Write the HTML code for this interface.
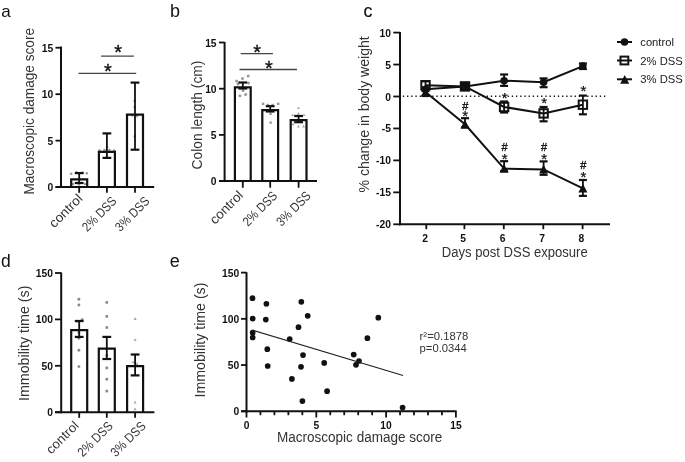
<!DOCTYPE html>
<html><head><meta charset="utf-8"><style>
html,body{margin:0;padding:0;background:#fff;}
svg{display:block;font-family:"Liberation Sans", sans-serif;filter:grayscale(1);}
</style></head><body>
<svg width="685" height="462" viewBox="0 0 685 462">
<rect width="685" height="462" fill="#fff"/>
<text x="1.20" y="16.60" font-size="17" text-anchor="start" font-weight="normal" fill="#111" >a</text>
<text x="170.00" y="16.70" font-size="18" text-anchor="start" font-weight="normal" fill="#111" >b</text>
<text x="363.40" y="16.60" font-size="17.7" text-anchor="start" font-weight="normal" fill="#111" stroke="#111" stroke-width="0.2">c</text>
<text x="0.90" y="267.20" font-size="17.5" text-anchor="start" font-weight="normal" fill="#111" >d</text>
<text x="169.80" y="267.30" font-size="18" text-anchor="start" font-weight="normal" fill="#111" >e</text>
<line x1="61.00" y1="46.40" x2="61.00" y2="188.10" stroke="#111" stroke-width="2" />
<line x1="55.50" y1="187.10" x2="154.20" y2="187.10" stroke="#111" stroke-width="2" />
<line x1="55.50" y1="187.10" x2="61.00" y2="187.10" stroke="#111" stroke-width="1.8" />
<line x1="55.50" y1="140.65" x2="61.00" y2="140.65" stroke="#111" stroke-width="1.8" />
<line x1="55.50" y1="94.20" x2="61.00" y2="94.20" stroke="#111" stroke-width="1.8" />
<line x1="55.50" y1="47.75" x2="61.00" y2="47.75" stroke="#111" stroke-width="1.8" />
<text x="53.20" y="51.76" font-size="10.3" text-anchor="end" font-weight="bold" fill="#111" >15</text>
<text x="53.20" y="98.21" font-size="10.3" text-anchor="end" font-weight="bold" fill="#111" >10</text>
<text x="53.20" y="144.66" font-size="10.3" text-anchor="end" font-weight="bold" fill="#111" >5</text>
<text x="53.20" y="191.11" font-size="10.3" text-anchor="end" font-weight="bold" fill="#111" >0</text>
<line x1="79.20" y1="187.10" x2="79.20" y2="192.80" stroke="#111" stroke-width="1.8" />
<line x1="106.90" y1="187.10" x2="106.90" y2="192.80" stroke="#111" stroke-width="1.8" />
<line x1="135.00" y1="187.10" x2="135.00" y2="192.80" stroke="#111" stroke-width="1.8" />
<circle cx="71.20" cy="173.80" r="1.3" fill="#999"/>
<circle cx="76.40" cy="172.20" r="1.3" fill="#999"/>
<circle cx="82.50" cy="172.50" r="1.3" fill="#999"/>
<circle cx="86.80" cy="173.30" r="1.3" fill="#999"/>
<circle cx="73.00" cy="184.00" r="1.3" fill="#999"/>
<circle cx="79.00" cy="184.50" r="1.3" fill="#999"/>
<circle cx="85.00" cy="184.00" r="1.3" fill="#999"/>
<circle cx="99.50" cy="150.50" r="1.3" fill="#999"/>
<circle cx="114.20" cy="150.50" r="1.3" fill="#999"/>
<circle cx="104.50" cy="150.00" r="1.3" fill="#999"/>
<circle cx="109.50" cy="150.00" r="1.3" fill="#999"/>
<circle cx="107.00" cy="147.00" r="1.3" fill="#999"/>
<circle cx="106.80" cy="157.00" r="1.3" fill="#999"/>
<circle cx="134.50" cy="101.00" r="1.3" fill="#aaa"/>
<circle cx="134.50" cy="107.00" r="1.3" fill="#aaa"/>
<circle cx="132.20" cy="115.50" r="1.3" fill="#aaa"/>
<circle cx="136.80" cy="116.20" r="1.3" fill="#aaa"/>
<circle cx="134.80" cy="136.30" r="1.3" fill="#aaa"/>
<path d="M71.20,187.10 V179.40 H87.20 V187.10" fill="none" stroke="#111" stroke-width="2.2" stroke-linejoin="miter"/>
<path d="M98.90,187.10 V151.90 H114.90 V187.10" fill="none" stroke="#111" stroke-width="2.2" stroke-linejoin="miter"/>
<path d="M127.00,187.10 V114.60 H143.00 V187.10" fill="none" stroke="#111" stroke-width="2.2" stroke-linejoin="miter"/>
<line x1="79.20" y1="173.10" x2="79.20" y2="183.00" stroke="#111" stroke-width="1.8" />
<line x1="74.80" y1="173.10" x2="83.60" y2="173.10" stroke="#111" stroke-width="2.2" />
<line x1="74.80" y1="183.00" x2="83.60" y2="183.00" stroke="#111" stroke-width="2.2" />
<line x1="106.90" y1="133.40" x2="106.90" y2="157.90" stroke="#111" stroke-width="1.8" />
<line x1="102.50" y1="133.40" x2="111.30" y2="133.40" stroke="#111" stroke-width="2.2" />
<line x1="102.50" y1="157.90" x2="111.30" y2="157.90" stroke="#111" stroke-width="2.2" />
<line x1="135.00" y1="82.60" x2="135.00" y2="149.70" stroke="#111" stroke-width="1.8" />
<line x1="130.60" y1="82.60" x2="139.40" y2="82.60" stroke="#111" stroke-width="2.2" />
<line x1="130.60" y1="149.70" x2="139.40" y2="149.70" stroke="#111" stroke-width="2.2" />
<line x1="101.10" y1="56.20" x2="133.90" y2="56.20" stroke="#444" stroke-width="1.3" />
<line x1="78.50" y1="73.40" x2="136.20" y2="73.40" stroke="#444" stroke-width="1.3" />
<text x="118.20" y="59.10" font-size="20" text-anchor="middle" fill="#111" stroke="#111" stroke-width="0.35">*</text>
<text x="108.00" y="77.90" font-size="20" text-anchor="middle" fill="#111" stroke="#111" stroke-width="0.35">*</text>
<text transform="translate(33.70,194.60) rotate(-90)" x="0" y="0" font-size="15" fill="#333" textLength="166.60" lengthAdjust="spacingAndGlyphs">Macroscopic damage score</text>
<text transform="translate(83.30,199.40) rotate(-45)" x="0" y="0" font-size="13" fill="#333" text-anchor="end" textLength="41.00" lengthAdjust="spacingAndGlyphs">control</text>
<text transform="translate(117.40,202.00) rotate(-45)" x="0" y="0" font-size="13" fill="#333" text-anchor="end" textLength="42.70" lengthAdjust="spacingAndGlyphs">2% DSS</text>
<text transform="translate(150.40,202.00) rotate(-45)" x="0" y="0" font-size="13" fill="#333" text-anchor="end" textLength="42.70" lengthAdjust="spacingAndGlyphs">3% DSS</text>
<line x1="224.60" y1="42.00" x2="224.60" y2="182.10" stroke="#111" stroke-width="2" />
<line x1="219.00" y1="181.10" x2="317.00" y2="181.10" stroke="#111" stroke-width="2" />
<line x1="219.00" y1="181.10" x2="224.60" y2="181.10" stroke="#111" stroke-width="1.8" />
<line x1="219.00" y1="134.90" x2="224.60" y2="134.90" stroke="#111" stroke-width="1.8" />
<line x1="219.00" y1="88.70" x2="224.60" y2="88.70" stroke="#111" stroke-width="1.8" />
<line x1="219.00" y1="42.50" x2="224.60" y2="42.50" stroke="#111" stroke-width="1.8" />
<text x="216.60" y="46.51" font-size="10.3" text-anchor="end" font-weight="bold" fill="#111" >15</text>
<text x="216.60" y="92.71" font-size="10.3" text-anchor="end" font-weight="bold" fill="#111" >10</text>
<text x="216.60" y="138.91" font-size="10.3" text-anchor="end" font-weight="bold" fill="#111" >5</text>
<text x="216.60" y="185.11" font-size="10.3" text-anchor="end" font-weight="bold" fill="#111" >0</text>
<line x1="242.80" y1="181.10" x2="242.80" y2="187.70" stroke="#111" stroke-width="1.8" />
<line x1="270.20" y1="181.10" x2="270.20" y2="187.70" stroke="#111" stroke-width="1.8" />
<line x1="298.60" y1="181.10" x2="298.60" y2="187.70" stroke="#111" stroke-width="1.8" />
<circle cx="236.60" cy="81.00" r="1.5" fill="#999"/>
<circle cx="242.50" cy="78.50" r="1.5" fill="#999"/>
<circle cx="248.20" cy="75.90" r="1.5" fill="#999"/>
<circle cx="248.50" cy="83.00" r="1.5" fill="#999"/>
<circle cx="243.00" cy="90.60" r="1.5" fill="#999"/>
<circle cx="245.60" cy="94.40" r="1.5" fill="#999"/>
<circle cx="239.90" cy="95.80" r="1.5" fill="#999"/>
<circle cx="238.00" cy="84.00" r="1.5" fill="#999"/>
<rect x="261.90" y="102.60" width="2.4" height="2.4" fill="#999"/>
<rect x="277.00" y="102.60" width="2.4" height="2.4" fill="#999"/>
<rect x="266.80" y="103.80" width="2.4" height="2.4" fill="#999"/>
<rect x="271.30" y="103.80" width="2.4" height="2.4" fill="#999"/>
<rect x="269.40" y="112.60" width="2.4" height="2.4" fill="#999"/>
<rect x="269.40" y="121.40" width="2.4" height="2.4" fill="#999"/>
<path d="M298.40,106.39 L299.90,109.01 L296.90,109.01 Z" fill="#aaa"/>
<path d="M292.70,113.39 L294.20,116.01 L291.20,116.01 Z" fill="#aaa"/>
<path d="M304.00,113.39 L305.50,116.01 L302.50,116.01 Z" fill="#aaa"/>
<path d="M298.40,112.09 L299.90,114.71 L296.90,114.71 Z" fill="#aaa"/>
<path d="M298.40,124.79 L299.90,127.41 L296.90,127.41 Z" fill="#aaa"/>
<path d="M293.10,122.59 L294.60,125.21 L291.60,125.21 Z" fill="#aaa"/>
<path d="M303.60,124.79 L305.10,127.41 L302.10,127.41 Z" fill="#aaa"/>
<path d="M234.90,181.10 V87.40 H250.70 V181.10" fill="none" stroke="#111" stroke-width="2.2" stroke-linejoin="miter"/>
<path d="M262.30,181.10 V110.10 H278.10 V181.10" fill="none" stroke="#111" stroke-width="2.2" stroke-linejoin="miter"/>
<path d="M290.70,181.10 V120.10 H306.50 V181.10" fill="none" stroke="#111" stroke-width="2.2" stroke-linejoin="miter"/>
<line x1="242.80" y1="82.50" x2="242.80" y2="88.50" stroke="#111" stroke-width="1.8" />
<line x1="238.40" y1="82.50" x2="247.20" y2="82.50" stroke="#111" stroke-width="2.2" />
<line x1="238.40" y1="88.50" x2="247.20" y2="88.50" stroke="#111" stroke-width="2.2" />
<line x1="270.20" y1="106.20" x2="270.20" y2="111.50" stroke="#111" stroke-width="1.8" />
<line x1="265.80" y1="106.20" x2="274.60" y2="106.20" stroke="#111" stroke-width="2.2" />
<line x1="265.80" y1="111.50" x2="274.60" y2="111.50" stroke="#111" stroke-width="2.2" />
<line x1="298.60" y1="116.00" x2="298.60" y2="122.20" stroke="#111" stroke-width="1.8" />
<line x1="294.20" y1="116.00" x2="303.00" y2="116.00" stroke="#111" stroke-width="2.2" />
<line x1="294.20" y1="122.20" x2="303.00" y2="122.20" stroke="#111" stroke-width="2.2" />
<line x1="240.70" y1="53.70" x2="272.90" y2="53.70" stroke="#444" stroke-width="1.3" />
<line x1="239.50" y1="69.50" x2="297.00" y2="69.50" stroke="#444" stroke-width="1.3" />
<text x="257.20" y="59.10" font-size="20" text-anchor="middle" fill="#111" stroke="#111" stroke-width="0.35">*</text>
<text x="269.00" y="74.80" font-size="20" text-anchor="middle" fill="#111" stroke="#111" stroke-width="0.35">*</text>
<text transform="translate(202.20,169.40) rotate(-90)" x="0" y="0" font-size="15" fill="#333" textLength="108.80" lengthAdjust="spacingAndGlyphs">Colon length (cm)</text>
<text transform="translate(244.00,196.00) rotate(-45)" x="0" y="0" font-size="13" fill="#333" text-anchor="end" textLength="41.00" lengthAdjust="spacingAndGlyphs">control</text>
<text transform="translate(278.10,196.70) rotate(-45)" x="0" y="0" font-size="13" fill="#333" text-anchor="end" textLength="42.70" lengthAdjust="spacingAndGlyphs">2% DSS</text>
<text transform="translate(311.60,196.70) rotate(-45)" x="0" y="0" font-size="13" fill="#333" text-anchor="end" textLength="42.70" lengthAdjust="spacingAndGlyphs">3% DSS</text>
<line x1="400.00" y1="32.00" x2="400.00" y2="225.30" stroke="#111" stroke-width="2" />
<line x1="399.00" y1="224.30" x2="610.00" y2="224.30" stroke="#111" stroke-width="2" />
<line x1="393.30" y1="32.60" x2="400.00" y2="32.60" stroke="#111" stroke-width="1.8" />
<line x1="393.30" y1="64.55" x2="400.00" y2="64.55" stroke="#111" stroke-width="1.8" />
<line x1="393.30" y1="96.50" x2="400.00" y2="96.50" stroke="#111" stroke-width="1.8" />
<line x1="393.30" y1="128.45" x2="400.00" y2="128.45" stroke="#111" stroke-width="1.8" />
<line x1="393.30" y1="160.40" x2="400.00" y2="160.40" stroke="#111" stroke-width="1.8" />
<line x1="393.30" y1="192.35" x2="400.00" y2="192.35" stroke="#111" stroke-width="1.8" />
<line x1="393.30" y1="224.30" x2="400.00" y2="224.30" stroke="#111" stroke-width="1.8" />
<text x="391.00" y="36.61" font-size="10.3" text-anchor="end" font-weight="bold" fill="#111" >10</text>
<text x="391.00" y="68.56" font-size="10.3" text-anchor="end" font-weight="bold" fill="#111" >5</text>
<text x="391.00" y="100.51" font-size="10.3" text-anchor="end" font-weight="bold" fill="#111" >0</text>
<text x="391.00" y="132.46" font-size="10.3" text-anchor="end" font-weight="bold" fill="#111" >-5</text>
<text x="391.00" y="164.41" font-size="10.3" text-anchor="end" font-weight="bold" fill="#111" >-10</text>
<text x="391.00" y="196.36" font-size="10.3" text-anchor="end" font-weight="bold" fill="#111" >-15</text>
<text x="391.00" y="228.31" font-size="10.3" text-anchor="end" font-weight="bold" fill="#111" >-20</text>
<line x1="426.30" y1="224.30" x2="426.30" y2="229.20" stroke="#111" stroke-width="1.8" />
<text x="425.00" y="242.30" font-size="10.3" text-anchor="middle" font-weight="bold" fill="#111" >2</text>
<line x1="464.40" y1="224.30" x2="464.40" y2="229.20" stroke="#111" stroke-width="1.8" />
<text x="463.10" y="242.30" font-size="10.3" text-anchor="middle" font-weight="bold" fill="#111" >5</text>
<line x1="503.80" y1="224.30" x2="503.80" y2="229.20" stroke="#111" stroke-width="1.8" />
<text x="502.50" y="242.30" font-size="10.3" text-anchor="middle" font-weight="bold" fill="#111" >6</text>
<line x1="543.30" y1="224.30" x2="543.30" y2="229.20" stroke="#111" stroke-width="1.8" />
<text x="542.00" y="242.30" font-size="10.3" text-anchor="middle" font-weight="bold" fill="#111" >7</text>
<line x1="582.60" y1="224.30" x2="582.60" y2="229.20" stroke="#111" stroke-width="1.8" />
<text x="581.30" y="242.30" font-size="10.3" text-anchor="middle" font-weight="bold" fill="#111" >8</text>
<text x="441.8" y="257.0" font-size="14" fill="#333" textLength="145.9" lengthAdjust="spacingAndGlyphs">Days post DSS exposure</text>
<text transform="translate(369.00,192.50) rotate(-90)" x="0" y="0" font-size="15" fill="#333" textLength="156.20" lengthAdjust="spacingAndGlyphs">% change in body weight</text>
<line x1="402.85" y1="96.3" x2="605.4" y2="96.3" stroke="#111" stroke-width="1.5" stroke-dasharray="1.3 2.89"/>
<polyline points="425.50,89.30 465.00,86.40 504.10,80.70 543.60,82.20 582.90,66.10" fill="none" stroke="#111" stroke-width="2"/>
<polyline points="425.50,85.20 465.00,86.40 504.10,107.00 543.60,113.40 582.90,104.70" fill="none" stroke="#111" stroke-width="2"/>
<polyline points="425.50,92.00 465.00,124.30 504.10,168.60 543.60,169.40 582.90,188.30" fill="none" stroke="#111" stroke-width="2"/>
<line x1="425.50" y1="87.50" x2="425.50" y2="91.00" stroke="#111" stroke-width="1.8" />
<line x1="421.50" y1="87.50" x2="429.50" y2="87.50" stroke="#111" stroke-width="2.2" />
<line x1="421.50" y1="91.00" x2="429.50" y2="91.00" stroke="#111" stroke-width="2.2" />
<line x1="465.00" y1="84.00" x2="465.00" y2="89.00" stroke="#111" stroke-width="1.8" />
<line x1="461.00" y1="84.00" x2="469.00" y2="84.00" stroke="#111" stroke-width="2.2" />
<line x1="461.00" y1="89.00" x2="469.00" y2="89.00" stroke="#111" stroke-width="2.2" />
<line x1="504.10" y1="74.50" x2="504.10" y2="85.90" stroke="#111" stroke-width="1.8" />
<line x1="500.10" y1="74.50" x2="508.10" y2="74.50" stroke="#111" stroke-width="2.2" />
<line x1="500.10" y1="85.90" x2="508.10" y2="85.90" stroke="#111" stroke-width="2.2" />
<line x1="543.60" y1="78.40" x2="543.60" y2="87.20" stroke="#111" stroke-width="1.8" />
<line x1="539.60" y1="78.40" x2="547.60" y2="78.40" stroke="#111" stroke-width="2.2" />
<line x1="539.60" y1="87.20" x2="547.60" y2="87.20" stroke="#111" stroke-width="2.2" />
<line x1="582.90" y1="63.50" x2="582.90" y2="69.00" stroke="#111" stroke-width="1.8" />
<line x1="578.90" y1="63.50" x2="586.90" y2="63.50" stroke="#111" stroke-width="2.2" />
<line x1="578.90" y1="69.00" x2="586.90" y2="69.00" stroke="#111" stroke-width="2.2" />
<line x1="425.50" y1="81.30" x2="425.50" y2="88.00" stroke="#111" stroke-width="1.8" />
<line x1="421.50" y1="81.30" x2="429.50" y2="81.30" stroke="#111" stroke-width="2.2" />
<line x1="421.50" y1="88.00" x2="429.50" y2="88.00" stroke="#111" stroke-width="2.2" />
<line x1="465.00" y1="83.00" x2="465.00" y2="90.00" stroke="#111" stroke-width="1.8" />
<line x1="461.00" y1="83.00" x2="469.00" y2="83.00" stroke="#111" stroke-width="2.2" />
<line x1="461.00" y1="90.00" x2="469.00" y2="90.00" stroke="#111" stroke-width="2.2" />
<line x1="504.10" y1="101.50" x2="504.10" y2="112.50" stroke="#111" stroke-width="1.8" />
<line x1="500.10" y1="101.50" x2="508.10" y2="101.50" stroke="#111" stroke-width="2.2" />
<line x1="500.10" y1="112.50" x2="508.10" y2="112.50" stroke="#111" stroke-width="2.2" />
<line x1="543.60" y1="107.00" x2="543.60" y2="121.30" stroke="#111" stroke-width="1.8" />
<line x1="539.60" y1="107.00" x2="547.60" y2="107.00" stroke="#111" stroke-width="2.2" />
<line x1="539.60" y1="121.30" x2="547.60" y2="121.30" stroke="#111" stroke-width="2.2" />
<line x1="582.90" y1="95.60" x2="582.90" y2="114.30" stroke="#111" stroke-width="1.8" />
<line x1="578.90" y1="95.60" x2="586.90" y2="95.60" stroke="#111" stroke-width="2.2" />
<line x1="578.90" y1="114.30" x2="586.90" y2="114.30" stroke="#111" stroke-width="2.2" />
<line x1="425.50" y1="90.00" x2="425.50" y2="96.00" stroke="#111" stroke-width="1.8" />
<line x1="421.50" y1="90.00" x2="429.50" y2="90.00" stroke="#111" stroke-width="2.2" />
<line x1="421.50" y1="96.00" x2="429.50" y2="96.00" stroke="#111" stroke-width="2.2" />
<line x1="465.00" y1="118.20" x2="465.00" y2="127.50" stroke="#111" stroke-width="1.8" />
<line x1="461.00" y1="118.20" x2="469.00" y2="118.20" stroke="#111" stroke-width="2.2" />
<line x1="461.00" y1="127.50" x2="469.00" y2="127.50" stroke="#111" stroke-width="2.2" />
<line x1="504.10" y1="161.20" x2="504.10" y2="171.00" stroke="#111" stroke-width="1.8" />
<line x1="500.10" y1="161.20" x2="508.10" y2="161.20" stroke="#111" stroke-width="2.2" />
<line x1="500.10" y1="171.00" x2="508.10" y2="171.00" stroke="#111" stroke-width="2.2" />
<line x1="543.60" y1="161.40" x2="543.60" y2="174.80" stroke="#111" stroke-width="1.8" />
<line x1="539.60" y1="161.40" x2="547.60" y2="161.40" stroke="#111" stroke-width="2.2" />
<line x1="539.60" y1="174.80" x2="547.60" y2="174.80" stroke="#111" stroke-width="2.2" />
<line x1="582.90" y1="180.00" x2="582.90" y2="195.90" stroke="#111" stroke-width="1.8" />
<line x1="578.90" y1="180.00" x2="586.90" y2="180.00" stroke="#111" stroke-width="2.2" />
<line x1="578.90" y1="195.90" x2="586.90" y2="195.90" stroke="#111" stroke-width="2.2" />
<circle cx="425.50" cy="89.30" r="3.75" fill="#111"/>
<circle cx="465.00" cy="86.40" r="3.75" fill="#111"/>
<circle cx="504.10" cy="80.70" r="3.75" fill="#111"/>
<circle cx="543.60" cy="82.20" r="3.75" fill="#111"/>
<circle cx="582.90" cy="66.10" r="3.75" fill="#111"/>
<rect x="421.30" y="81.00" width="8.4" height="8.4" fill="#fff" fill-opacity="0" stroke="#111" stroke-width="2"/>
<rect x="460.80" y="82.20" width="8.4" height="8.4" fill="#fff" fill-opacity="0" stroke="#111" stroke-width="2"/>
<rect x="499.90" y="102.80" width="8.4" height="8.4" fill="#fff" fill-opacity="0" stroke="#111" stroke-width="2"/>
<rect x="539.40" y="109.20" width="8.4" height="8.4" fill="#fff" fill-opacity="0" stroke="#111" stroke-width="2"/>
<rect x="578.70" y="100.50" width="8.4" height="8.4" fill="#fff" fill-opacity="0" stroke="#111" stroke-width="2"/>
<path d="M425.50,87.40 L430.00,96.20 L421.00,96.20 Z" fill="#111"/>
<path d="M465.00,119.70 L469.50,128.50 L460.50,128.50 Z" fill="#111"/>
<path d="M504.10,164.00 L508.60,172.80 L499.60,172.80 Z" fill="#111"/>
<path d="M543.60,164.80 L548.10,173.60 L539.10,173.60 Z" fill="#111"/>
<path d="M582.90,183.70 L587.40,192.50 L578.40,192.50 Z" fill="#111"/>
<text x="504.60" y="103.30" font-size="15" text-anchor="middle" fill="#111" stroke="#111" stroke-width="0.25">*</text>
<text x="544.10" y="107.90" font-size="15" text-anchor="middle" fill="#111" stroke="#111" stroke-width="0.25">*</text>
<text x="583.40" y="95.70" font-size="15" text-anchor="middle" fill="#111" stroke="#111" stroke-width="0.25">*</text>
<text x="465.20" y="109.59" font-size="11" text-anchor="middle" fill="#111" stroke="#111" stroke-width="0.35">#</text>
<text x="465.20" y="120.70" font-size="15" text-anchor="middle" fill="#111" stroke="#111" stroke-width="0.25">*</text>
<text x="504.60" y="150.89" font-size="11" text-anchor="middle" fill="#111" stroke="#111" stroke-width="0.35">#</text>
<text x="504.60" y="163.50" font-size="15" text-anchor="middle" fill="#111" stroke="#111" stroke-width="0.25">*</text>
<text x="544.10" y="151.49" font-size="11" text-anchor="middle" fill="#111" stroke="#111" stroke-width="0.35">#</text>
<text x="544.10" y="164.00" font-size="15" text-anchor="middle" fill="#111" stroke="#111" stroke-width="0.25">*</text>
<text x="583.40" y="169.19" font-size="11" text-anchor="middle" fill="#111" stroke="#111" stroke-width="0.35">#</text>
<text x="583.40" y="182.20" font-size="15" text-anchor="middle" fill="#111" stroke="#111" stroke-width="0.25">*</text>
<line x1="617.00" y1="42.00" x2="632.00" y2="42.00" stroke="#111" stroke-width="2" />
<circle cx="624.5" cy="42" r="3.75" fill="#111"/>
<line x1="617.00" y1="60.50" x2="632.00" y2="60.50" stroke="#111" stroke-width="2" />
<rect x="620.5" y="56.6" width="7.8" height="7.8" fill="none" stroke="#111" stroke-width="2"/>
<line x1="617.00" y1="79.30" x2="632.00" y2="79.30" stroke="#111" stroke-width="2" />
<path d="M624.70,75.00 L629.20,83.80 L620.20,83.80 Z" fill="#111"/>
<text x="640.30" y="45.60" font-size="11.6" text-anchor="start" font-weight="normal" fill="#1a1a1a" textLength="33.6" lengthAdjust="spacingAndGlyphs">control</text>
<text x="640.30" y="64.70" font-size="11.6" text-anchor="start" font-weight="normal" fill="#1a1a1a" textLength="42.5" lengthAdjust="spacingAndGlyphs">2% DSS</text>
<text x="640.30" y="83.30" font-size="11.6" text-anchor="start" font-weight="normal" fill="#1a1a1a" textLength="42.5" lengthAdjust="spacingAndGlyphs">3% DSS</text>
<line x1="61.20" y1="272.50" x2="61.20" y2="413.20" stroke="#111" stroke-width="2" />
<line x1="55.00" y1="412.20" x2="154.40" y2="412.20" stroke="#111" stroke-width="2" />
<line x1="55.00" y1="412.20" x2="61.20" y2="412.20" stroke="#111" stroke-width="1.8" />
<line x1="55.00" y1="365.80" x2="61.20" y2="365.80" stroke="#111" stroke-width="1.8" />
<line x1="55.00" y1="319.40" x2="61.20" y2="319.40" stroke="#111" stroke-width="1.8" />
<line x1="55.00" y1="273.00" x2="61.20" y2="273.00" stroke="#111" stroke-width="1.8" />
<text x="53.00" y="277.01" font-size="10.3" text-anchor="end" font-weight="bold" fill="#111" >150</text>
<text x="53.00" y="323.41" font-size="10.3" text-anchor="end" font-weight="bold" fill="#111" >100</text>
<text x="53.00" y="369.81" font-size="10.3" text-anchor="end" font-weight="bold" fill="#111" >50</text>
<text x="53.00" y="416.21" font-size="10.3" text-anchor="end" font-weight="bold" fill="#111" >0</text>
<line x1="79.20" y1="412.20" x2="79.20" y2="417.80" stroke="#111" stroke-width="1.8" />
<line x1="106.80" y1="412.20" x2="106.80" y2="417.80" stroke="#111" stroke-width="1.8" />
<line x1="135.10" y1="412.20" x2="135.10" y2="417.80" stroke="#111" stroke-width="1.8" />
<circle cx="78.90" cy="299.20" r="1.45" fill="#888"/>
<circle cx="78.90" cy="305.00" r="1.45" fill="#888"/>
<circle cx="76.90" cy="321.20" r="1.45" fill="#888"/>
<circle cx="82.20" cy="319.60" r="1.45" fill="#888"/>
<circle cx="78.90" cy="332.80" r="1.45" fill="#888"/>
<circle cx="78.90" cy="338.30" r="1.45" fill="#888"/>
<circle cx="78.90" cy="350.20" r="1.45" fill="#888"/>
<circle cx="78.90" cy="366.60" r="1.45" fill="#888"/>
<rect x="105.50" y="301.10" width="2.6" height="2.6" fill="#888"/>
<rect x="105.50" y="315.10" width="2.6" height="2.6" fill="#888"/>
<rect x="105.50" y="326.20" width="2.6" height="2.6" fill="#888"/>
<rect x="105.50" y="354.20" width="2.6" height="2.6" fill="#888"/>
<rect x="105.50" y="366.60" width="2.6" height="2.6" fill="#888"/>
<rect x="105.50" y="377.90" width="2.6" height="2.6" fill="#888"/>
<rect x="105.50" y="389.80" width="2.6" height="2.6" fill="#888"/>
<path d="M135.10,317.11 L136.70,319.89 L133.50,319.89 Z" fill="#aaa"/>
<path d="M135.10,338.21 L136.70,340.99 L133.50,340.99 Z" fill="#aaa"/>
<path d="M133.10,360.41 L134.70,363.19 L131.50,363.19 Z" fill="#aaa"/>
<path d="M137.00,362.11 L138.60,364.89 L135.40,364.89 Z" fill="#aaa"/>
<path d="M135.10,400.81 L136.70,403.59 L133.50,403.59 Z" fill="#aaa"/>
<path d="M135.10,407.41 L136.70,410.19 L133.50,410.19 Z" fill="#aaa"/>
<path d="M71.20,412.20 V330.20 H87.20 V412.20" fill="none" stroke="#111" stroke-width="2.2" stroke-linejoin="miter"/>
<path d="M98.80,412.20 V348.70 H114.80 V412.20" fill="none" stroke="#111" stroke-width="2.2" stroke-linejoin="miter"/>
<path d="M127.10,412.20 V366.20 H143.10 V412.20" fill="none" stroke="#111" stroke-width="2.2" stroke-linejoin="miter"/>
<line x1="79.20" y1="321.00" x2="79.20" y2="336.90" stroke="#111" stroke-width="1.8" />
<line x1="74.80" y1="321.00" x2="83.60" y2="321.00" stroke="#111" stroke-width="2.2" />
<line x1="74.80" y1="336.90" x2="83.60" y2="336.90" stroke="#111" stroke-width="2.2" />
<line x1="106.80" y1="336.90" x2="106.80" y2="359.00" stroke="#111" stroke-width="1.8" />
<line x1="102.40" y1="336.90" x2="111.20" y2="336.90" stroke="#111" stroke-width="2.2" />
<line x1="102.40" y1="359.00" x2="111.20" y2="359.00" stroke="#111" stroke-width="2.2" />
<line x1="135.10" y1="354.50" x2="135.10" y2="375.40" stroke="#111" stroke-width="1.8" />
<line x1="130.70" y1="354.50" x2="139.50" y2="354.50" stroke="#111" stroke-width="2.2" />
<line x1="130.70" y1="375.40" x2="139.50" y2="375.40" stroke="#111" stroke-width="2.2" />
<text transform="translate(29.40,401.00) rotate(-90)" x="0" y="0" font-size="15" fill="#333" textLength="115.40" lengthAdjust="spacingAndGlyphs">Immobility time (s)</text>
<text transform="translate(79.60,426.50) rotate(-45)" x="0" y="0" font-size="13" fill="#333" text-anchor="end" textLength="40.00" lengthAdjust="spacingAndGlyphs">control</text>
<text transform="translate(113.60,426.80) rotate(-45)" x="0" y="0" font-size="13" fill="#333" text-anchor="end" textLength="43.50" lengthAdjust="spacingAndGlyphs">2% DSS</text>
<text transform="translate(146.60,426.80) rotate(-45)" x="0" y="0" font-size="13" fill="#333" text-anchor="end" textLength="43.50" lengthAdjust="spacingAndGlyphs">3% DSS</text>
<line x1="246.50" y1="272.20" x2="246.50" y2="412.30" stroke="#111" stroke-width="2" />
<line x1="241.00" y1="411.30" x2="456.60" y2="411.30" stroke="#111" stroke-width="2" />
<line x1="241.00" y1="411.30" x2="246.50" y2="411.30" stroke="#111" stroke-width="1.8" />
<line x1="241.00" y1="365.06" x2="246.50" y2="365.06" stroke="#111" stroke-width="1.8" />
<line x1="241.00" y1="318.83" x2="246.50" y2="318.83" stroke="#111" stroke-width="1.8" />
<line x1="241.00" y1="272.60" x2="246.50" y2="272.60" stroke="#111" stroke-width="1.8" />
<text x="239.20" y="276.60" font-size="10.3" text-anchor="end" font-weight="bold" fill="#111" >150</text>
<text x="239.20" y="322.84" font-size="10.3" text-anchor="end" font-weight="bold" fill="#111" >100</text>
<text x="239.20" y="369.07" font-size="10.3" text-anchor="end" font-weight="bold" fill="#111" >50</text>
<text x="239.20" y="415.31" font-size="10.3" text-anchor="end" font-weight="bold" fill="#111" >0</text>
<line x1="246.50" y1="411.30" x2="246.50" y2="417.50" stroke="#111" stroke-width="1.8" />
<line x1="260.46" y1="411.30" x2="260.46" y2="415.20" stroke="#111" stroke-width="1.8" />
<line x1="274.42" y1="411.30" x2="274.42" y2="415.20" stroke="#111" stroke-width="1.8" />
<line x1="288.38" y1="411.30" x2="288.38" y2="415.20" stroke="#111" stroke-width="1.8" />
<line x1="302.34" y1="411.30" x2="302.34" y2="415.20" stroke="#111" stroke-width="1.8" />
<line x1="316.30" y1="411.30" x2="316.30" y2="417.50" stroke="#111" stroke-width="1.8" />
<line x1="330.26" y1="411.30" x2="330.26" y2="415.20" stroke="#111" stroke-width="1.8" />
<line x1="344.22" y1="411.30" x2="344.22" y2="415.20" stroke="#111" stroke-width="1.8" />
<line x1="358.18" y1="411.30" x2="358.18" y2="415.20" stroke="#111" stroke-width="1.8" />
<line x1="372.14" y1="411.30" x2="372.14" y2="415.20" stroke="#111" stroke-width="1.8" />
<line x1="386.10" y1="411.30" x2="386.10" y2="417.50" stroke="#111" stroke-width="1.8" />
<line x1="400.06" y1="411.30" x2="400.06" y2="415.20" stroke="#111" stroke-width="1.8" />
<line x1="414.02" y1="411.30" x2="414.02" y2="415.20" stroke="#111" stroke-width="1.8" />
<line x1="427.98" y1="411.30" x2="427.98" y2="415.20" stroke="#111" stroke-width="1.8" />
<line x1="441.94" y1="411.30" x2="441.94" y2="415.20" stroke="#111" stroke-width="1.8" />
<line x1="455.90" y1="411.30" x2="455.90" y2="417.50" stroke="#111" stroke-width="1.8" />
<text x="246.50" y="429.40" font-size="10.3" text-anchor="middle" font-weight="bold" fill="#111" >0</text>
<text x="316.30" y="429.40" font-size="10.3" text-anchor="middle" font-weight="bold" fill="#111" >5</text>
<text x="386.10" y="429.40" font-size="10.3" text-anchor="middle" font-weight="bold" fill="#111" >10</text>
<text x="455.90" y="429.40" font-size="10.3" text-anchor="middle" font-weight="bold" fill="#111" >15</text>
<text x="277.0" y="441.5" font-size="14" fill="#333" textLength="165.3" lengthAdjust="spacingAndGlyphs">Macroscopic damage score</text>
<text transform="translate(205.00,397.40) rotate(-90)" x="0" y="0" font-size="15" fill="#333" textLength="114.80" lengthAdjust="spacingAndGlyphs">Immobility time (s)</text>
<circle cx="252.50" cy="298.20" r="2.85" fill="#111"/>
<circle cx="266.40" cy="303.80" r="2.85" fill="#111"/>
<circle cx="301.30" cy="301.80" r="2.85" fill="#111"/>
<circle cx="252.70" cy="318.60" r="2.85" fill="#111"/>
<circle cx="265.80" cy="319.60" r="2.85" fill="#111"/>
<circle cx="307.70" cy="315.80" r="2.85" fill="#111"/>
<circle cx="378.30" cy="317.70" r="2.85" fill="#111"/>
<circle cx="298.50" cy="327.20" r="2.85" fill="#111"/>
<circle cx="252.70" cy="332.70" r="2.85" fill="#111"/>
<circle cx="252.70" cy="337.50" r="2.85" fill="#111"/>
<circle cx="289.70" cy="339.10" r="2.85" fill="#111"/>
<circle cx="367.40" cy="338.20" r="2.85" fill="#111"/>
<circle cx="267.30" cy="349.20" r="2.85" fill="#111"/>
<circle cx="303.00" cy="355.10" r="2.85" fill="#111"/>
<circle cx="353.70" cy="354.60" r="2.85" fill="#111"/>
<circle cx="359.00" cy="361.00" r="2.85" fill="#111"/>
<circle cx="356.00" cy="364.80" r="2.85" fill="#111"/>
<circle cx="324.20" cy="362.90" r="2.85" fill="#111"/>
<circle cx="267.70" cy="366.00" r="2.85" fill="#111"/>
<circle cx="301.00" cy="366.80" r="2.85" fill="#111"/>
<circle cx="291.90" cy="378.90" r="2.85" fill="#111"/>
<circle cx="327.10" cy="391.20" r="2.85" fill="#111"/>
<circle cx="302.40" cy="401.10" r="2.85" fill="#111"/>
<circle cx="402.60" cy="407.60" r="2.85" fill="#111"/>
<line x1="252.50" y1="330.10" x2="403.10" y2="375.50" stroke="#222" stroke-width="1.2" />
<text x="419.60" y="339.50" font-size="11.6" text-anchor="start" font-weight="normal" fill="#333" textLength="48.8" lengthAdjust="spacingAndGlyphs">r²=0.1878</text>
<text x="419.60" y="352.40" font-size="11.6" text-anchor="start" font-weight="normal" fill="#333" textLength="47.3" lengthAdjust="spacingAndGlyphs">p=0.0344</text>
</svg>
</body></html>
